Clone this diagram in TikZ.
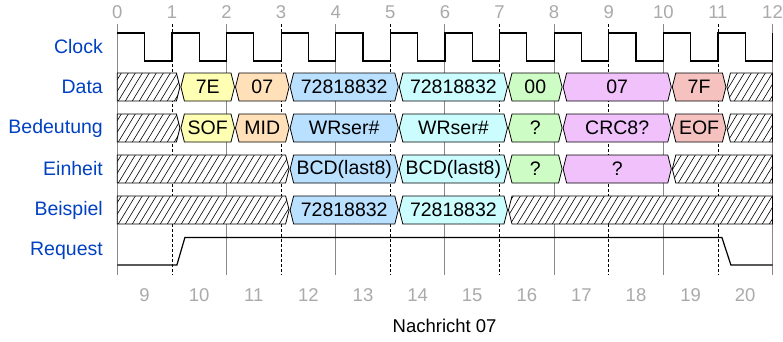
\documentclass[tikz,border=0pt]{standalone}
\usepackage{fontspec}
\setmainfont{Liberation Sans}
\definecolor{cY}{HTML}{FFFFB4}
\definecolor{cO}{HTML}{FFE0B9}
\definecolor{cB}{HTML}{B9E0FF}
\definecolor{cC}{HTML}{CCFDFE}
\definecolor{cG}{HTML}{CDFDC5}
\definecolor{cP}{HTML}{F0C1FB}
\definecolor{cR}{HTML}{F5C2C0}
\definecolor{laneblue}{HTML}{0041C4}
\definecolor{numgray}{HTML}{AAAAAA}
\definecolor{gridgray}{HTML}{888888}
\newcommand\gx[1]{117.3+54.6*(#1)}
\newcommand\hexbox[6]{%
  \filldraw[boxline,fill=#4] ({117.3+54.6*(#1)+9},#3+14) -- ({117.3+54.6*(#1)+12.5},#3) -- ({117.3+54.6*(#2)+4.5},#3) -- ({117.3+54.6*(#2)+8},#3+14) -- ({117.3+54.6*(#2)+4.5},#3+28) -- ({117.3+54.6*(#1)+12.5},#3+28) -- cycle;
  \node[boxtext] (#6) at ({117.3+54.6*((#1)+(#2))/2+8.5},#3+14) {#5};
}
\newcommand\hatchbox[3]{%
  \ifnum#1=0
    \def\hl{(117.3,#3)}\def\hlb{(117.3,#3+28)}%
  \else
    \def\hl{({117.3+54.6*(#1)+9},#3+14) -- ({117.3+54.6*(#1)+12.5},#3)}\def\hlb{({117.3+54.6*(#1)+12.5},#3+28)}%
  \fi
  \ifnum#2=12
    \def\hr{({117.3+54.6*12},#3) -- ({117.3+54.6*12},#3+28)}%
  \else
    \def\hr{({117.3+54.6*(#2)+4.5},#3) -- ({117.3+54.6*(#2)+8},#3+14) -- ({117.3+54.6*(#2)+4.5},#3+28)}%
  \fi
  \begin{scope}
    \clip \hl -- \hr -- \hlb -- cycle;
    \fill[white] \hl -- \hr -- \hlb -- cycle;
    \foreach \k in {0,...,100} \draw[hatchline] ({117.3+7*\k-20},#3+28) -- ++(17,-28);
  \end{scope}
  \draw[boxline] \hl -- \hr -- \hlb -- cycle;
}
\begin{document}
\begin{tikzpicture}[x=1pt,y=-1pt,
  boxline/.style={draw=black,line width=0.8pt},
  hatchline/.style={draw=black,line width=0.6pt},
  sig/.style={draw=black,line width=1.2pt,line join=miter},
  evengrid/.style={draw=gridgray,line width=0.9pt},
  oddgrid/.style={draw=black,line width=0.7pt,dash pattern=on 3pt off 2pt},
  lane/.style={anchor=east,text=laneblue,font=\fontsize{19.5}{20}\selectfont,inner sep=0pt},
  boxtext/.style={text=black,font=\fontsize{19.5}{20}\selectfont,inner sep=0pt},
  num/.style={text=numgray,font=\fontsize{18.5}{19}\selectfont,inner sep=0pt},
  title/.style={text=black,font=\fontsize{18.5}{19}\selectfont,inner sep=0pt}]
\useasboundingbox (0,0) rectangle (783,341);
\fill[white] (0,0) rectangle (783,341);
% grid
\foreach \i in {0,2,...,12} \draw[evengrid] ({\gx{\i}},24) -- ({\gx{\i}},275);
\foreach \i in {1,3,...,11} \draw[oddgrid] ({\gx{\i}},24) -- ({\gx{\i}},275);
% numbers
\foreach \i in {0,...,12} \node[num] (t\i) at ({\gx{\i}},12) {\i};
\foreach \i [evaluate=\i as \j using int(\i+9)] in {0,...,11} \node[num] (b\j) at ({\gx{\i+0.5}},295) {\j};
% lane labels
\node[lane] (lclock) at (103,47) {Clock};
\node[lane] (ldata) at (103,87) {Data};
\node[lane] (lbed) at (103,128) {Bedeutung};
\node[lane] (lein) at (103,169) {Einheit};
\node[lane] (lbei) at (103,210) {Beispiel};
\node[lane] (lreq) at (103,251) {Request};
% clock
\draw[sig] (117.3,33) \foreach \i in {0,...,11} { -- ({\gx{\i+0.5}},33) -- ({\gx{\i+0.5}},61) -- ({\gx{\i+1}},61) -- ({\gx{\i+1}},33) };
% data
\hatchbox{0}{1}{73}
\hexbox{1}{2}{73}{cY}{7E}{d1}
\hexbox{2}{3}{73}{cO}{07}{d2}
\hexbox{3}{5}{73}{cB}{72818832}{d3}
\hexbox{5}{7}{73}{cC}{72818832}{d4}
\hexbox{7}{8}{73}{cG}{00}{d5}
\hexbox{8}{10}{73}{cP}{07}{d6}
\hexbox{10}{11}{73}{cR}{7F}{d7}
\hatchbox{11}{12}{73}
% bedeutung
\hatchbox{0}{1}{114}
\hexbox{1}{2}{114}{cY}{SOF}{m1}
\hexbox{2}{3}{114}{cO}{MID}{m2}
\hexbox{3}{5}{114}{cB}{WRser\#}{m3}
\hexbox{5}{7}{114}{cC}{WRser\#}{m4}
\hexbox{7}{8}{114}{cG}{?}{m5}
\hexbox{8}{10}{114}{cP}{CRC8?}{m6}
\hexbox{10}{11}{114}{cR}{EOF}{m7}
\hatchbox{11}{12}{114}
% einheit
\hatchbox{0}{3}{155}
\hexbox{3}{5}{155}{cB}{BCD(last8)}{e3}
\hexbox{5}{7}{155}{cC}{BCD(last8)}{e4}
\hexbox{7}{8}{155}{cG}{?}{e5}
\hexbox{8}{10}{155}{cP}{?}{e6}
\hatchbox{10}{12}{155}
% beispiel
\hatchbox{0}{3}{196}
\hexbox{3}{5}{196}{cB}{72818832}{x3}
\hexbox{5}{7}{196}{cC}{72818832}{x4}
\hatchbox{7}{12}{196}
% request
\draw[sig] (117.3,265) -- ({\gx{1}+5},265) -- ({\gx{1}+13},237.5) -- ({\gx{11}+4},237.5) -- ({\gx{11}+13},265) -- ({\gx{12}},265);
% title
\node[title] (ttl) at (444.6,326) {Nachricht 07};
\end{tikzpicture}
\end{document}
